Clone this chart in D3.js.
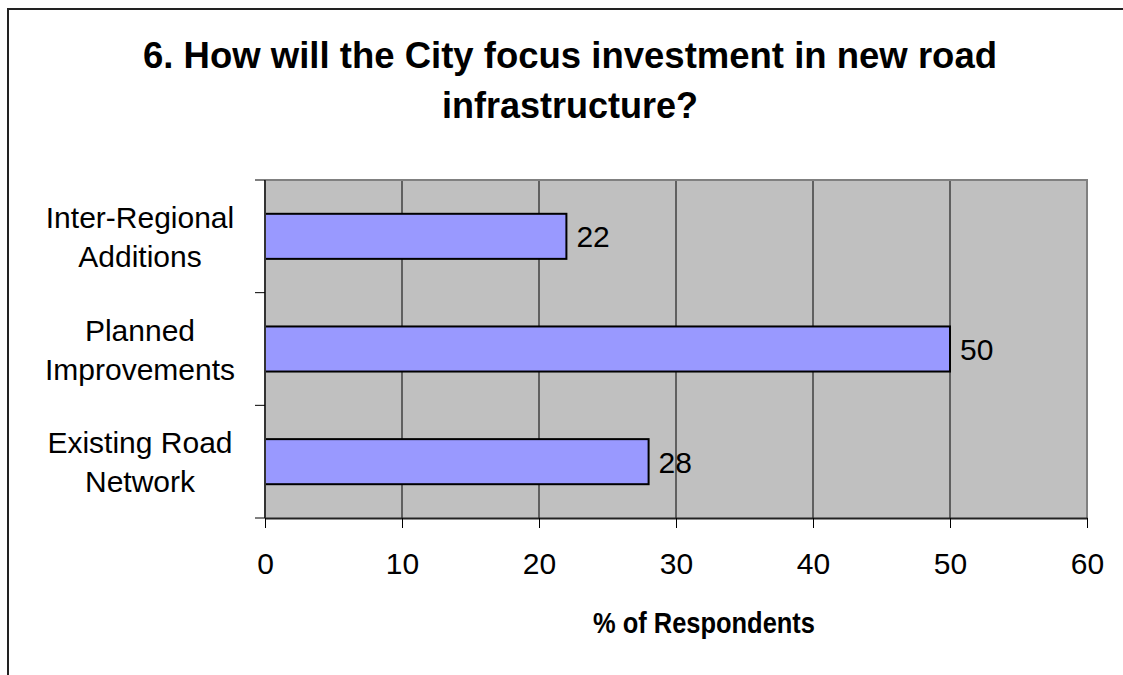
<!DOCTYPE html>
<html>
<head>
<meta charset="utf-8">
<script src="https://cdn.jsdelivr.net/npm/d3@7"></script>
<style>
  html, body { margin: 0; padding: 0; background: #fff; }
  svg { display: block; font-family: "Liberation Sans", Arial, sans-serif; }
</style>
</head>
<body>
<svg id="chart" width="1123" height="675"></svg>
<script>
// Survey question 6 results
const titleLines = ["6. How will the City focus investment in new road", "infrastructure?"];
const categories = ["Inter-Regional Additions", "Planned Improvements", "Existing Road Network"];
const categoryLines = [["Inter-Regional", "Additions"], ["Planned", "Improvements"], ["Existing Road", "Network"]];
const percentRespondents = [22, 50, 28];
const xTicks = [0, 10, 20, 30, 40, 50, 60];
const xTitle = "% of Respondents";

const svg = d3.select("#chart");
const plot = { left: 265, right: 1087, top: 180, bottom: 518 };

const x = d3.scaleLinear().domain([0, 60]).range([plot.left, plot.right]);
const y = d3.scaleBand().domain(categories).range([plot.top, plot.bottom]).padding(0);
const barH = y.bandwidth() * 0.4;

// outer frame (left and top edges)
svg.append("path")
  .attr("d", `M8,675 V9 H1123`)
  .attr("fill", "none").attr("stroke", "#222").attr("stroke-width", 2);

// title
const titleFit = [854, 256];
svg.append("g").selectAll("text").data(titleLines).join("text")
  .attr("x", 570).attr("y", (d, i) => 68 + i * 50)
  .attr("text-anchor", "middle")
  .attr("font-size", 36).attr("font-weight", "bold")
  .attr("textLength", (d, i) => titleFit[i])
  .attr("lengthAdjust", "spacingAndGlyphs")
  .text(d => d);

// plot background
svg.append("rect")
  .attr("x", plot.left).attr("y", plot.top)
  .attr("width", plot.right - plot.left).attr("height", plot.bottom - plot.top)
  .attr("fill", "#C0C0C0");

// vertical gridlines
svg.append("g").selectAll("line").data(xTicks.filter(t => t > 0 && t < 60)).join("line")
  .attr("x1", d => x(d)).attr("x2", d => x(d))
  .attr("y1", plot.top).attr("y2", plot.bottom)
  .attr("stroke", "#000").attr("stroke-width", 1);

// plot border top/right
svg.append("path")
  .attr("d", `M${plot.left},${plot.top} H${plot.right} V${plot.bottom}`)
  .attr("fill", "none").attr("stroke", "#808080").attr("stroke-width", 2);

// bars
svg.append("g").selectAll("rect").data(categories).join("rect")
  .attr("x", x(0))
  .attr("y", d => y(d) + (y.bandwidth() - barH) / 2)
  .attr("width", (d, i) => x(percentRespondents[i]) - x(0))
  .attr("height", barH)
  .attr("fill", "#9999FF").attr("stroke", "#000").attr("stroke-width", 2);

// value labels
svg.append("g").selectAll("text").data(categories).join("text")
  .attr("x", (d, i) => x(percentRespondents[i]) + 10)
  .attr("y", d => y(d) + y.bandwidth() / 2 + 11)
  .attr("font-size", 30)
  .text((d, i) => percentRespondents[i]);

// x axis
const xAxis = svg.append("g")
  .attr("transform", `translate(0,${plot.bottom})`)
  .call(d3.axisBottom(x).tickValues(xTicks).tickSize(10).tickPadding(25).tickSizeOuter(0));
xAxis.select(".domain").attr("stroke", "#222").attr("stroke-width", 2);
xAxis.selectAll(".tick line").attr("stroke", "#000");
xAxis.selectAll(".tick text").attr("font-size", 30).attr("fill", "#000")
  .attr("font-family", "Liberation Sans, Arial, sans-serif");

// y axis line and band-boundary ticks
const bounds = categories.map(c => y(c)).concat([plot.bottom]);
svg.append("line")
  .attr("x1", plot.left).attr("x2", plot.left)
  .attr("y1", plot.top).attr("y2", plot.bottom)
  .attr("stroke", "#333").attr("stroke-width", 2);
svg.append("g").selectAll("line").data(bounds).join("line")
  .attr("x1", plot.left - 10).attr("x2", plot.left)
  .attr("y1", d => d).attr("y2", d => d)
  .attr("stroke", "#000").attr("stroke-width", 1);

// category labels
const catG = svg.append("g").selectAll("text").data(categories).join("text")
  .attr("text-anchor", "middle")
  .attr("font-size", 30);
catG.each(function (d, i) {
  const lines = categoryLines[i];
  const cy = y(d) + y.bandwidth() / 2;
  d3.select(this).selectAll("tspan").data(lines).join("tspan")
    .attr("x", 140)
    .attr("y", (l, j) => cy + 11 + (j - (lines.length - 1) / 2) * 39)
    .text(l => l);
});

// x axis title
svg.append("text")
  .attr("x", 704).attr("y", 633)
  .attr("text-anchor", "middle")
  .attr("font-size", 29).attr("font-weight", "bold")
  .attr("textLength", 222).attr("lengthAdjust", "spacingAndGlyphs")
  .text(xTitle);
</script>
</body>
</html>
